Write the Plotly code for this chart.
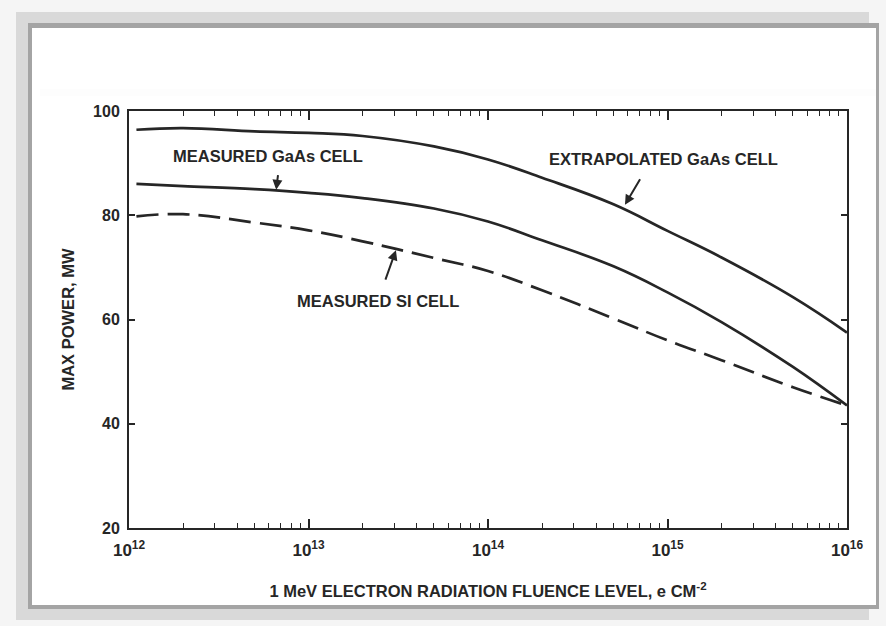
import plotly.graph_objects as go

# Fluence levels (e/cm^2) and maximum power (mW) of each cell
fluence = [1.1e12, 2e12, 5e12, 1e13, 2e13, 5e13, 1e14, 2e14, 5e14, 1e15, 2e15, 5e15, 1e16]
extrapolated_gaas = [96.4, 96.7, 96.1, 95.8, 95.2, 93.2, 90.7, 87.2, 82.1, 77.0, 71.9, 64.3, 57.5]
measured_gaas = [86.0, 85.6, 85.0, 84.3, 83.3, 81.3, 78.8, 75.2, 70.2, 65.2, 59.5, 50.9, 43.5]
measured_si = [79.8, 80.2, 78.6, 77.1, 75.0, 71.8, 69.3, 65.6, 60.2, 56.0, 52.2, 47.0, 43.5]

x_tickvals = [1e12, 1e13, 1e14, 1e15, 1e16]
x_exponents = ["12", "13", "14", "15", "16"]
x_ticktext = ["10<sup>%s</sup>" % e for e in x_exponents]
y_tickvals = [20, 40, 60, 80, 100]
minor_vals = [m * 10 ** e for e in range(12, 16) for m in range(2, 10)]

W, H = 886, 626
L, R, T, B = 129, 847, 111, 528  # plot area in pixels
INK = "#262626"
FONT = "Liberation Sans, Arial, sans-serif"


def px(X):
    return (X - L) / (R - L)


def py(Y):
    return (B - Y) / (B - T)


fig = go.Figure()

line_style = dict(color=INK, width=2.7, shape="spline", smoothing=1.2)
fig.add_trace(go.Scatter(x=fluence, y=extrapolated_gaas, mode="lines", line=line_style,
                         name="EXTRAPOLATED GaAs CELL"))
fig.add_trace(go.Scatter(x=fluence, y=measured_gaas, mode="lines", line=line_style,
                         name="MEASURED GaAs CELL"))
fig.add_trace(go.Scatter(x=fluence, y=measured_si, mode="lines",
                         line=dict(line_style, dash="22px,9px"),
                         name="MEASURED SI CELL"))

# Page frame: light shadow band, dark border, white sheet
shapes = [
    dict(type="rect", xref="paper", yref="paper", layer="below",
         x0=px(16), x1=px(869), y0=py(12), y1=py(620),
         fillcolor="#d9d9d9", line=dict(width=0)),
    dict(type="rect", xref="paper", yref="paper", layer="below",
         x0=px(28), x1=px(879), y0=py(23), y1=py(609),
         fillcolor="#a4a4a4", line=dict(width=0)),
    dict(type="rect", xref="paper", yref="paper", layer="below",
         x0=px(32), x1=px(876), y0=py(28), y1=py(605),
         fillcolor="white", line=dict(width=0)),
    dict(type="rect", xref="paper", yref="paper", layer="below",
         x0=px(40), x1=px(876), y0=py(89), y1=py(96),
         fillcolor="rgba(0,0,0,0.008)", line=dict(width=0)),
]

label_font = dict(family=FONT, size=16.5, color=INK, weight="bold")
arrow_style = dict(xref="x", yref="y", text="", showarrow=True, arrowhead=2,
                   arrowsize=1, arrowwidth=2, arrowcolor=INK)
annotations = [
    dict(x=12.775, y=91.4, xref="x", yref="y", text="MEASURED GaAs CELL",
         showarrow=False, font=label_font),
    dict(x=14.98, y=90.8, xref="x", yref="y", text="EXTRAPOLATED GaAs CELL",
         showarrow=False, font=label_font),
    dict(x=13.387, y=63.6, xref="x", yref="y", text="MEASURED SI CELL",
         showarrow=False, font=label_font),
    # pointer arrows to the curves
    dict(arrow_style, x=12.82, y=84.9, ax=2, ay=-16),
    dict(arrow_style, x=14.763, y=82.0, ax=16, ay=-27),
    dict(arrow_style, x=13.487, y=73.3, ax=-11, ay=31),
]

axis_font = dict(family=FONT, size=16, color=INK, weight="bold")
fig.update_layout(
    width=W, height=H, autosize=False,
    margin=dict(l=L, r=W - R, t=T, b=H - B, pad=0),
    paper_bgcolor="#f5f5f5", plot_bgcolor="white",
    showlegend=False,
    shapes=shapes, annotations=annotations,
    xaxis=dict(
        type="log", range=[12, 16], tickmode="array",
        tickvals=x_tickvals, ticktext=x_ticktext,
        ticks="inside", ticklen=9, tickwidth=1.5, tickcolor=INK,
        minor=dict(tickmode="array", tickvals=minor_vals, ticks="inside",
                   ticklen=5, tickwidth=1.2, tickcolor=INK),
        showline=True, linecolor=INK, linewidth=2, mirror="ticks",
        showgrid=False, zeroline=False, automargin=False,
        tickfont=dict(family=FONT, size=17, color=INK, weight="bold"),
        ticklabelstandoff=6,
        title=dict(text="1 MeV ELECTRON RADIATION FLUENCE LEVEL, e CM<sup>-2</sup>",
                   font=dict(family=FONT, size=16.5, color=INK, weight="bold"),
                   standoff=26),
    ),
    yaxis=dict(
        range=[20, 100], tickmode="array", tickvals=y_tickvals,
        ticks="inside", ticklen=6, tickwidth=1.5, tickcolor=INK,
        showline=True, linecolor=INK, linewidth=2, mirror="ticks",
        showgrid=False, zeroline=False, automargin=False,
        tickfont=axis_font, ticklabelstandoff=4,
        title=dict(text="MAX POWER, MW",
                   font=dict(family=FONT, size=16.5, color=INK, weight="bold"),
                   standoff=14),
    ),
)

fig.write_html("out.html")
